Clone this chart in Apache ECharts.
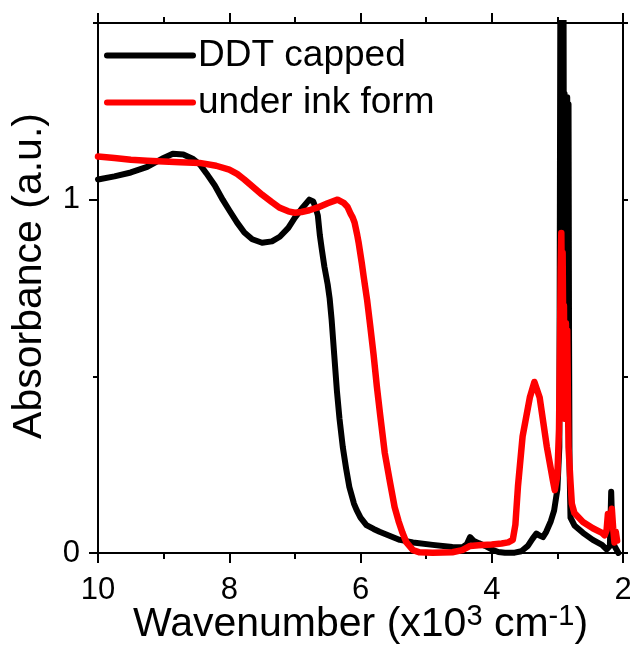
<!DOCTYPE html>
<html>
<head>
<meta charset="utf-8">
<script src="https://cdn.jsdelivr.net/npm/echarts@6/dist/echarts.min.js"></script>
<style>
  html, body { margin: 0; padding: 0; background: #ffffff; }
  #chart { width: 630px; height: 648px; }
</style>
</head>
<body>
<div id="chart"></div>
<script>
// Absorbance spectra versus wavenumber (in 10^3 cm^-1)
const seriesNames = ['DDT capped', 'under ink form'];
const xTicks = [10, 8, 6, 4, 2];
const yTicks = [0, 1];

const ddtWavenumber = [
  10.0, 9.75, 9.5, 9.25, 9.0, 8.86, 8.7, 8.55, 8.45, 8.35, 8.22, 8.1, 8.0, 7.88,
  7.77, 7.65, 7.5, 7.35, 7.23, 7.1, 7.0, 6.88, 6.78, 6.72, 6.68, 6.65, 6.62, 6.59,
  6.55, 6.5, 6.47, 6.44, 6.4, 6.36, 6.32, 6.27, 6.22, 6.17, 6.1, 6.06, 6.0, 5.91,
  5.8, 5.71, 5.55, 5.4, 5.2, 4.9, 4.6, 4.45, 4.38, 4.33, 4.28, 4.2, 4.1, 4.0,
  3.9, 3.8, 3.65, 3.55, 3.45, 3.38, 3.32, 3.28, 3.22, 3.17, 3.1, 3.05, 3.0, 2.97,
  2.96, 2.953, 2.945, 2.937, 2.93, 2.922, 2.915, 2.907, 2.9, 2.89, 2.88, 2.87, 2.86, 2.85,
  2.84, 2.83, 2.822, 2.815, 2.8, 2.74, 2.61, 2.46, 2.32, 2.25, 2.2, 2.18, 2.16, 2.13,
  2.1, 2.07
];
const ddtAbsorbance = [
  1.057, 1.066, 1.077, 1.093, 1.118, 1.13, 1.128, 1.115, 1.1, 1.075, 1.04, 1.0, 0.97, 0.935,
  0.907, 0.888, 0.878, 0.882, 0.895, 0.92, 0.949, 0.978, 1.0, 0.995, 0.975, 0.955, 0.9, 0.86,
  0.81, 0.76, 0.72, 0.66, 0.56, 0.46, 0.38, 0.3, 0.24, 0.187, 0.14, 0.122, 0.1, 0.079,
  0.068, 0.06, 0.048, 0.037, 0.03, 0.023, 0.017, 0.016, 0.025, 0.045, 0.035, 0.028, 0.02, 0.01,
  0.003, 0.001, 0.001, 0.005, 0.02, 0.04, 0.055, 0.05, 0.045, 0.06, 0.09, 0.12, 0.18, 0.3,
  1.15, 1.7, 1.1, 1.7, 1.2, 1.7, 1.0, 1.7, 0.9, 1.3, 0.8, 1.29, 0.75, 1.29,
  0.7, 1.27, 0.6, 0.25, 0.1, 0.078, 0.057, 0.037, 0.023, 0.01, 0.02, 0.173, 0.05, 0.02,
  0.01, 0.0
];

const inkWavenumber = [
  10.0, 9.75, 9.5, 9.25, 9.0, 8.75, 8.45, 8.2, 8.0, 7.88, 7.77, 7.65, 7.5, 7.35,
  7.23, 7.1, 7.0, 6.9, 6.78, 6.65, 6.5, 6.35, 6.25, 6.2, 6.15, 6.12, 6.09, 6.05,
  6.03, 5.98, 5.95, 5.9, 5.85, 5.8, 5.75, 5.7, 5.63, 5.55, 5.48, 5.42, 5.36, 5.3,
  5.28, 5.2, 5.1, 4.9, 4.6, 4.45, 4.33, 4.2, 4.0, 3.85, 3.75, 3.68, 3.64, 3.6,
  3.53, 3.42, 3.35, 3.27, 3.16, 3.07, 3.04, 3.0, 2.975, 2.96, 2.95, 2.94, 2.93, 2.92,
  2.91, 2.9, 2.89, 2.88, 2.87, 2.86, 2.85, 2.84, 2.83, 2.8, 2.78, 2.74, 2.61, 2.46,
  2.32, 2.28, 2.25, 2.23, 2.2, 2.17, 2.15, 2.13, 2.11, 2.09
];
const inkAbsorbance = [
  1.122, 1.118, 1.113, 1.11, 1.108, 1.106, 1.104, 1.096, 1.085, 1.073, 1.057, 1.038, 1.014, 0.993,
  0.977, 0.967, 0.963, 0.965, 0.97, 0.978, 0.99, 1.0, 0.99, 0.98, 0.96, 0.95, 0.935, 0.9,
  0.88, 0.82, 0.78, 0.717, 0.64, 0.56, 0.47, 0.39, 0.283, 0.2, 0.13, 0.09, 0.057, 0.03,
  0.025, 0.008, 0.002, 0.001, 0.002, 0.008, 0.02, 0.022, 0.024, 0.027, 0.03, 0.037, 0.08, 0.19,
  0.33, 0.44, 0.484, 0.44, 0.3, 0.207, 0.178, 0.22, 0.35, 0.6, 0.8, 0.906, 0.7, 0.85,
  0.6, 0.7, 0.38, 0.55, 0.65, 0.5, 0.63, 0.45, 0.3, 0.2, 0.14, 0.113, 0.088, 0.07,
  0.057, 0.05, 0.065, 0.11, 0.09, 0.125, 0.07, 0.03, 0.06, 0.035
];

const FONT = '"Liberation Sans", Arial, Helvetica, sans-serif';
const BLACK = '#000000';
const RED = '#ff0000';

const pair = (xs, ys) => xs.map((x, i) => [x, ys[i]]);

const axisLineStyle = { color: BLACK, width: 2 };

function xAxisBase(position) {
  return {
    type: 'value', position: position, min: 2, max: 10, interval: 2, inverse: true,
    axisLine: { show: true, onZero: false, lineStyle: axisLineStyle },
    axisTick: { show: true, inside: false, length: 10, lineStyle: axisLineStyle },
    minorTick: { show: true, splitNumber: 2, length: 6, lineStyle: axisLineStyle },
    splitLine: { show: false },
    minorSplitLine: { show: false }
  };
}

function yAxisBase(position) {
  return {
    type: 'value', position: position, min: 0, max: 1.5, interval: 0.5,
    axisLine: { show: true, onZero: false, lineStyle: axisLineStyle },
    axisTick: { show: true, inside: false, length: 5, lineStyle: axisLineStyle },
    splitLine: { show: false },
    axisLabel: { show: false }
  };
}

const chart = echarts.init(document.getElementById('chart'), null, { renderer: 'canvas' });

chart.setOption({
  animation: false,
  backgroundColor: '#ffffff',
  textStyle: { fontFamily: FONT, color: BLACK },
  grid: { left: 98, right: 7, top: 23, bottom: 95, containLabel: false, outerBoundsMode: 'none' },
  legend: {
    orient: 'vertical',
    left: 99, top: 32,
    itemWidth: 86, itemHeight: 14, itemGap: 10,
    selectedMode: false,
    data: seriesNames,
    lineStyle: { width: 6, cap: 'round' },
    itemStyle: { opacity: 0 },
    textStyle: { fontSize: 37, color: BLACK, fontFamily: FONT, lineHeight: 35 }
  },
  xAxis: [
    Object.assign(xAxisBase('bottom'), {
      name: 'Wavenumber (x10{sup|3} cm{sup|-1})',
      nameLocation: 'middle',
      nameGap: 49,
      nameMoveOverlap: false,
      nameTextStyle: {
        fontSize: 41, lineHeight: 46, color: BLACK, fontFamily: FONT,
        rich: { sup: { fontSize: 29, lineHeight: 29, verticalAlign: 'top', fontFamily: FONT, color: BLACK } }
      },
      axisLabel: {
        show: true, fontSize: 31, color: BLACK, fontFamily: FONT, margin: 22,
        formatter: v => (xTicks.indexOf(v) >= 0 ? String(v) : '')
      }
    }),
    Object.assign(xAxisBase('top'), { axisLabel: { show: false } })
  ],
  yAxis: [
    Object.assign(yAxisBase('left'), {
      name: 'Absorbance (a.u.)',
      nameLocation: 'middle',
      nameGap: 48,
      nameTextStyle: { fontSize: 41, color: BLACK, fontFamily: FONT, padding: [0, 0, 0, 24] }
    }),
    yAxisBase('right'),
    // major ticks and labels on the left axis
    {
      type: 'value', position: 'left', min: 0, max: 1.5, interval: 0.5,
      axisLine: { show: false },
      axisTick: { show: true, inside: false, length: 9, lineStyle: axisLineStyle, customValues: yTicks },
      splitLine: { show: false },
      axisLabel: {
        show: true, fontSize: 31, color: BLACK, fontFamily: FONT, margin: 18,
        customValues: yTicks
      }
    }
  ],
  series: [
    {
      name: seriesNames[0], type: 'line', xAxisIndex: 0, yAxisIndex: 0,
      data: pair(ddtWavenumber, ddtAbsorbance),
      showSymbol: false, symbol: 'none', clip: true,
      lineStyle: { color: BLACK, width: 6, join: 'round', cap: 'round' },
      itemStyle: { color: BLACK }
    },
    {
      name: seriesNames[1], type: 'line', xAxisIndex: 0, yAxisIndex: 0,
      data: pair(inkWavenumber, inkAbsorbance),
      showSymbol: false, symbol: 'none', clip: true,
      lineStyle: { color: RED, width: 6.5, join: 'round', cap: 'round' },
      itemStyle: { color: RED }
    }
  ]
});
</script>
</body>
</html>
